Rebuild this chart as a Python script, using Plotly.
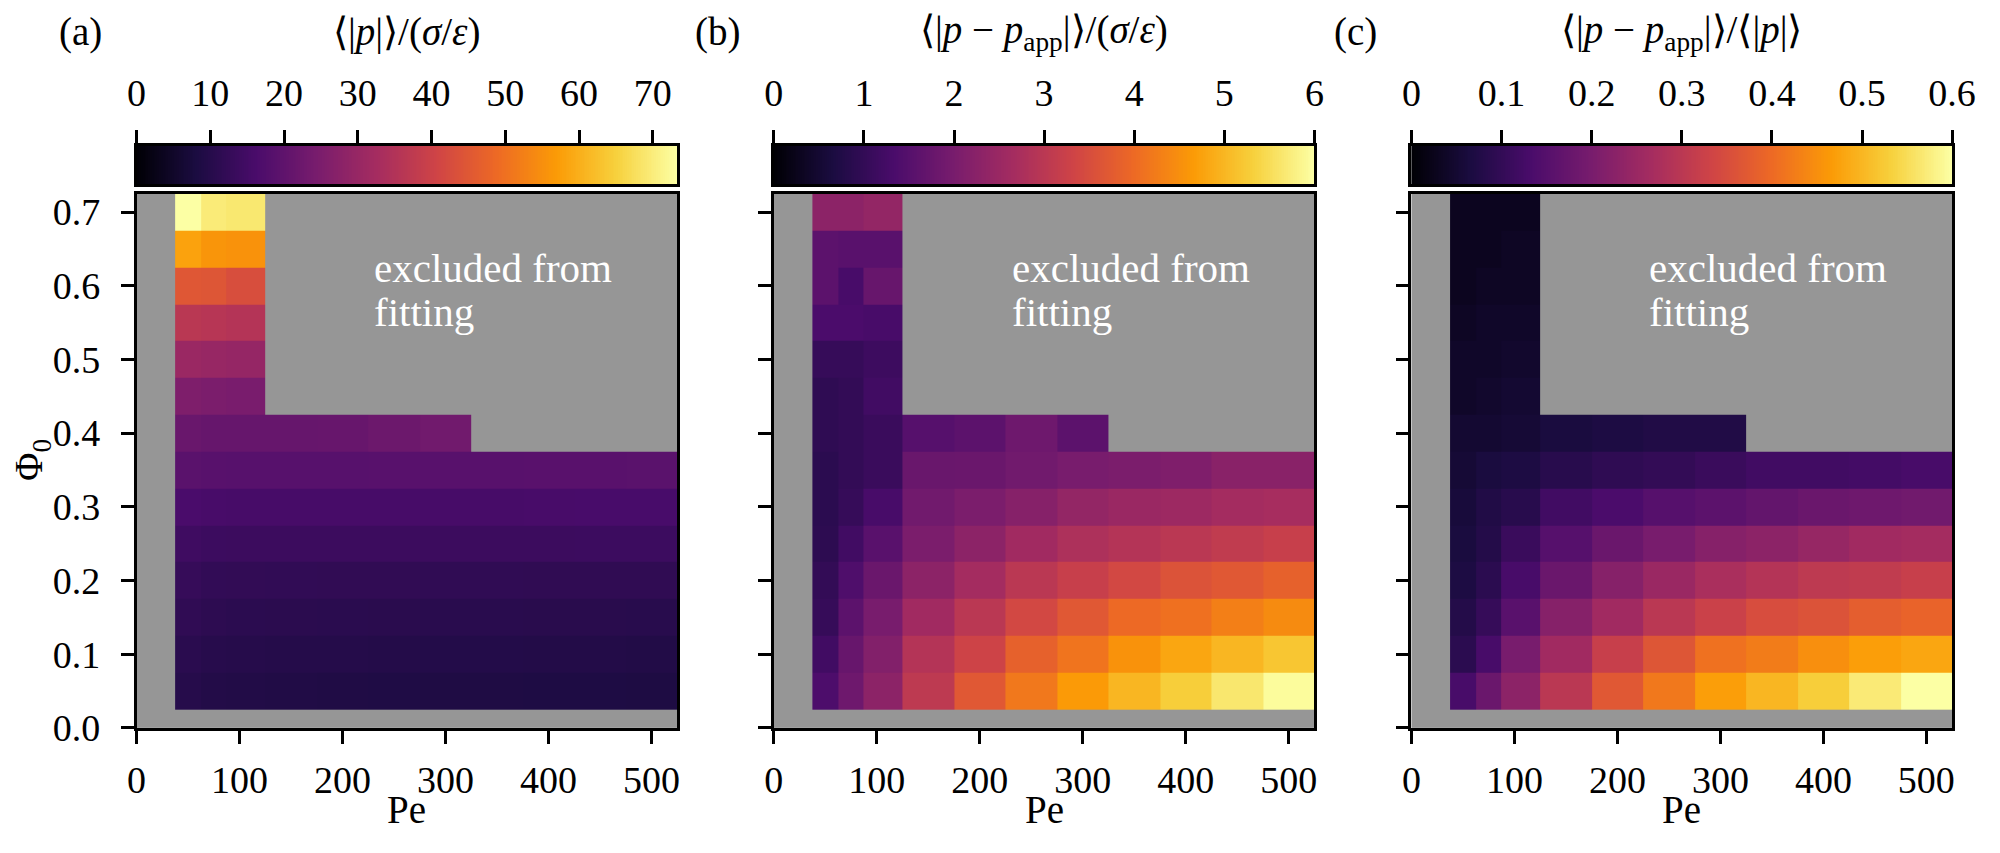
import numpy as np
import plotly.graph_objects as go

# Péclet numbers (columns) and packing fractions (rows, bottom to top)
pe = [50, 75, 100, 150, 200, 250, 300, 350, 400, 450, 500]
phi = [0.05, 0.10, 0.15, 0.20, 0.25, 0.30, 0.35, 0.40, 0.45, 0.50, 0.55, 0.60, 0.65, 0.70]
N = None

# (a) <|p|>/(sigma/eps)
p_abs = [
    [10.0, 9.5, 9.4, 9.2, 9.0, 8.9, 8.8, 8.8, 8.7, 8.7, 8.6],
    [10.8, 10.2, 10.1, 9.9, 9.8, 9.7, 9.6, 9.6, 9.5, 9.5, 9.4],
    [11.8, 11.2, 11.0, 10.9, 10.8, 10.7, 10.6, 10.6, 10.5, 10.5, 10.4],
    [12.8, 12.2, 12.1, 12.0, 11.9, 11.9, 11.8, 11.8, 11.7, 11.7, 11.7],
    [14.3, 13.9, 13.8, 13.8, 13.8, 13.8, 13.8, 13.8, 13.8, 13.9, 13.9],
    [16.3, 15.9, 15.8, 15.7, 15.7, 15.8, 15.8, 15.8, 15.9, 16.0, 16.0],
    [19.2, 18.8, 18.6, 18.6, 18.6, 18.7, 18.8, 18.8, 18.9, 19.0, 19.1],
    [21.8, 21.3, 21.2, 21.2, 21.4, 22.3, 23.2, N, N, N, N],
    [25.5, 25.0, 24.6, N, N, N, N, N, N, N, N],
    [30.5, 30.0, 29.6, N, N, N, N, N, N, N, N],
    [36.5, 36.0, 35.4, N, N, N, N, N, N, N, N],
    [45.0, 44.6, 43.0, N, N, N, N, N, N, N, N],
    [58.0, 56.0, 55.6, N, N, N, N, N, N, N, N],
    [73.3, 69.8, 69.2, N, N, N, N, N, N, N, N],
]

# (b) <|p - p_app|>/(sigma/eps)
err_abs = [
    [1.38, 1.85, 2.30, 3.05, 3.70, 4.20, 4.65, 5.00, 5.30, 5.65, 5.95],
    [1.20, 1.75, 2.15, 2.90, 3.30, 3.85, 4.15, 4.55, 4.80, 5.00, 5.20],
    [1.05, 1.60, 2.00, 2.60, 3.00, 3.40, 3.70, 4.00, 4.10, 4.30, 4.45],
    [1.00, 1.40, 1.80, 2.30, 2.65, 3.00, 3.20, 3.40, 3.60, 3.70, 3.85],
    [0.92, 1.20, 1.55, 2.05, 2.30, 2.60, 2.80, 2.90, 3.00, 3.10, 3.20],
    [0.90, 1.05, 1.30, 1.90, 2.05, 2.20, 2.40, 2.50, 2.55, 2.65, 2.70],
    [0.90, 1.00, 1.10, 1.78, 1.80, 1.90, 2.00, 2.05, 2.10, 2.25, 2.25],
    [0.95, 1.00, 1.10, 1.50, 1.60, 1.85, 1.60, N, N, N, N],
    [0.95, 1.00, 1.20, N, N, N, N, N, N, N, N],
    [1.05, 1.05, 1.15, N, N, N, N, N, N, N, N],
    [1.35, 1.35, 1.30, N, N, N, N, N, N, N, N],
    [1.60, 1.30, 1.75, N, N, N, N, N, N, N, N],
    [1.60, 1.55, 1.55, N, N, N, N, N, N, N, N],
    [2.30, 2.30, 2.40, N, N, N, N, N, N, N, N],
]

# (c) <|p - p_app|>/<|p|>
err_rel = [
    [0.130, 0.180, 0.230, 0.300, 0.370, 0.420, 0.470, 0.500, 0.530, 0.570, 0.600],
    [0.090, 0.130, 0.200, 0.260, 0.320, 0.365, 0.410, 0.425, 0.450, 0.470, 0.480],
    [0.080, 0.105, 0.155, 0.220, 0.260, 0.300, 0.325, 0.350, 0.360, 0.380, 0.390],
    [0.070, 0.090, 0.130, 0.180, 0.220, 0.250, 0.275, 0.290, 0.305, 0.310, 0.320],
    [0.065, 0.080, 0.110, 0.150, 0.180, 0.200, 0.220, 0.230, 0.245, 0.260, 0.265],
    [0.060, 0.075, 0.085, 0.120, 0.135, 0.150, 0.160, 0.170, 0.180, 0.185, 0.190],
    [0.055, 0.065, 0.070, 0.085, 0.095, 0.100, 0.110, 0.120, 0.120, 0.125, 0.130],
    [0.050, 0.050, 0.055, 0.065, 0.070, 0.075, 0.075, N, N, N, N],
    [0.040, 0.045, 0.050, N, N, N, N, N, N, N, N],
    [0.040, 0.040, 0.045, N, N, N, N, N, N, N, N],
    [0.035, 0.040, 0.040, N, N, N, N, N, N, N, N],
    [0.030, 0.035, 0.035, N, N, N, N, N, N, N, N],
    [0.030, 0.030, 0.035, N, N, N, N, N, N, N, N],
    [0.030, 0.030, 0.030, N, N, N, N, N, N, N, N],
]

x_ticks = [0, 100, 200, 300, 400, 500]
y_ticks = [0.0, 0.1, 0.2, 0.3, 0.4, 0.5, 0.6, 0.7]
cbar_ticks = [
    [0, 10, 20, 30, 40, 50, 60, 70],
    [0, 1, 2, 3, 4, 5, 6],
    [0, 0.1, 0.2, 0.3, 0.4, 0.5, 0.6],
]
cbar_max = [73.3, 6.0, 0.6]
titles = [
    "⟨|<i>p</i>|⟩/(<i>σ</i>/<i>ε</i>)",
    "⟨|<i>p</i> − <i>p</i><sub>app</sub>|⟩/(<i>σ</i>/<i>ε</i>)",
    "⟨|<i>p</i> − <i>p</i><sub>app</sub>|⟩/⟨|<i>p</i>|⟩",
]
panel_labels = ["(a)", "(b)", "(c)"]
panels = [p_abs, err_abs, err_rel]

W, H = 2000, 853
FONT = "Liberation Serif"
FS = 38
GRAY = "#969696"
panel_left = [128.7, 777.0, 1425.7]
panel_w = 550.0


def px(v):
    return v / W


def py(v):
    return 1 - v / H


def font(size=FS, color="black"):
    return dict(family=FONT, size=size, color=color)


fig = go.Figure()
axis_line = dict(showline=True, mirror=True, linecolor="black", linewidth=2.5,
                 ticks="outside", ticklen=13, tickwidth=2.5, tickcolor="black",
                 showgrid=False, zeroline=False, tickfont=font())
layout = {}
annotations = []

for i, z in enumerate(panels):
    n = i + 1
    xa = "x" if n == 1 else f"x{n}"
    ya = "y" if n == 1 else f"y{n}"
    fig.add_trace(go.Heatmap(
        x=pe, y=phi, z=z, colorscale="Inferno", zmin=0, zmax=cbar_max[i],
        showscale=False, xaxis=xa, yaxis=ya, hoverongaps=False,
    ))
    dom_x = [px(panel_left[i]), px(panel_left[i] + panel_w)]
    layout["xaxis" if n == 1 else f"xaxis{n}"] = dict(
        axis_line, domain=dom_x, anchor=ya, range=[0, 525],
        tickvals=x_ticks, ticklabelstandoff=4,
    )
    layout["yaxis" if n == 1 else f"yaxis{n}"] = dict(
        axis_line, domain=[py(746), py(197)], anchor=xa, range=[0, 0.725],
        tickvals=y_ticks, tickformat=".1f", showticklabels=(n == 1),
        ticklabelstandoff=13,
    )

    # colour bar drawn as its own strip above the panel
    m = n + 3
    ramp = np.linspace(0, cbar_max[i], 300)
    fig.add_trace(go.Heatmap(
        x=ramp, y=[0], z=[ramp], colorscale="Inferno", zmin=0, zmax=cbar_max[i],
        showscale=False, xaxis=f"x{m}", yaxis=f"y{m}", hoverinfo="skip",
    ))
    layout[f"xaxis{m}"] = dict(
        axis_line, domain=dom_x, anchor=f"y{m}", range=[0, cbar_max[i]],
        side="top", tickvals=cbar_ticks[i], ticklabelstandoff=9,
    )
    layout[f"yaxis{m}"] = dict(
        axis_line, domain=[py(187), py(148)], anchor=f"x{m}",
        ticks="", showticklabels=False, range=[-0.5, 0.5],
    )

    cx = px(panel_left[i] + panel_w / 2)
    annotations.append(dict(
        text=titles[i], xref="paper", yref="paper", x=cx, y=py(31),
        xanchor="center", yanchor="middle", showarrow=False, font=font(39),
    ))
    annotations.append(dict(
        text=panel_labels[i], xref="paper", yref="paper",
        x=px(panel_left[i] - 57), y=py(31),
        xanchor="center", yanchor="middle", showarrow=False, font=font(39),
    ))
    annotations.append(dict(
        text="Pe", xref="paper", yref="paper", x=cx, y=0,
        xanchor="center", yanchor="bottom", showarrow=False, font=font(39),
        borderpad=0,
    ))
    for line, yv in [("excluded from", 0.6235), ("fitting", 0.565)]:
        annotations.append(dict(
            text=line, xref=xa, yref=ya, x=230, y=yv,
            xanchor="left", yanchor="middle", showarrow=False,
            font=font(41, "white"), borderpad=0,
        ))

annotations.append(dict(
    text="Φ<sub>0</sub>", xref="paper", yref="paper",
    x=px(22), y=py(471), textangle=-90,
    xanchor="center", yanchor="middle", showarrow=False, font=font(39),
))

fig.update_layout(
    width=W, height=H,
    margin=dict(l=0, r=0, t=0, b=0),
    paper_bgcolor="white", plot_bgcolor=GRAY,
    font=font(),
    annotations=annotations,
    **layout,
)

fig.write_html("out.html", config={"displayModeBar": False},
               post_script="document.body.style.margin='0px';")
